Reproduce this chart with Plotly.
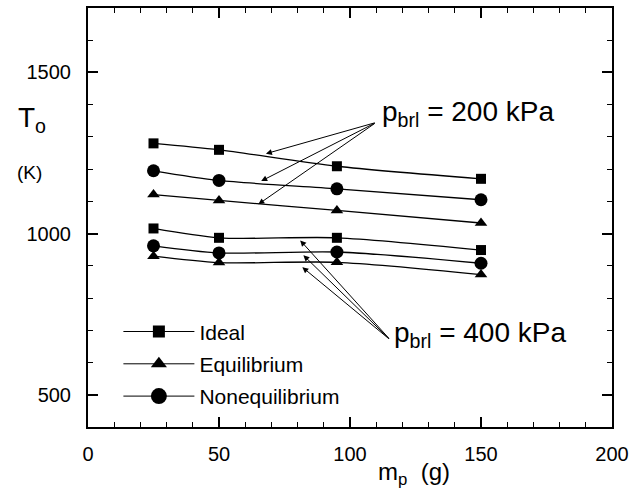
import plotly.graph_objects as go

# Propellant mass (g)
m_p = [25, 50, 95, 150]

# Stagnation temperature T_o (K) for a breech pressure of 200 kPa
ideal_200 = [1280, 1260, 1209, 1170]
equil_200 = [1121, 1103, 1072, 1033]
noneq_200 = [1195, 1165, 1139, 1105]

# Stagnation temperature T_o (K) for a breech pressure of 400 kPa
ideal_400 = [1016, 987, 987, 949]
equil_400 = [930, 910, 911, 873]
noneq_400 = [962, 940, 943, 908]

FONT = "Liberation Sans, Arial, Helvetica, sans-serif"

# name, marker symbol, marker size on curves, marker size in legend, data
models = [
    ("Ideal", "square", 10, 12, ideal_200, ideal_400),
    ("Equilibrium", "triangle-up", 11, 14, equil_200, equil_400),
    ("Nonequilibrium", "circle", 13, 16, noneq_200, noneq_400),
]

fig = go.Figure()
for name, symbol, size, leg_size, t200, t400 in models:
    for t in (t200, t400):
        fig.add_trace(go.Scatter(
            x=m_p, y=t, name=name, legendgroup=name, showlegend=False,
            mode="lines+markers",
            line=dict(color="black", width=1.3, shape="spline", smoothing=0.8),
            marker=dict(symbol=symbol, size=size, color="black"),
        ))
    # legend key with a larger symbol and a thin line
    fig.add_trace(go.Scatter(
        x=[None], y=[None], name=name, legendgroup=name, showlegend=True,
        mode="lines+markers",
        line=dict(color="black", width=1),
        marker=dict(symbol=symbol, size=leg_size, color="black"),
    ))

# Pressure labels with arrows pointing at their curve families
fig.add_annotation(x=111.6, y=1372, xref="x", yref="y", xanchor="left", yanchor="middle",
                   text="p<sub>brl</sub> = 200 kPa", showarrow=False,
                   font=dict(family=FONT, size=28, color="black"))
fig.add_annotation(x=116, y=688, xref="x", yref="y", xanchor="left", yanchor="middle",
                   text="p<sub>brl</sub> = 400 kPa", showarrow=False,
                   font=dict(family=FONT, size=28, color="black"))

arrows_200 = [(67.9, 1248), (66.1, 1163), (65.0, 1091)]
arrows_400 = [(81.0, 979), (82.2, 933), (81.8, 896)]
for (tx, ty) in arrows_200:
    fig.add_annotation(x=tx, y=ty, ax=110, ay=1345, xref="x", yref="y",
                       axref="x", ayref="y", text="", showarrow=True,
                       arrowhead=2, arrowsize=1.2, arrowwidth=1, arrowcolor="black")
for (tx, ty) in arrows_400:
    fig.add_annotation(x=tx, y=ty, ax=115.4, ay=670, xref="x", yref="y",
                       axref="x", ayref="y", text="", showarrow=True,
                       arrowhead=2, arrowsize=1.2, arrowwidth=1, arrowcolor="black")

# Axis titles
fig.add_annotation(x=-0.137, y=0.735, xref="paper", yref="paper", xanchor="left",
                   yanchor="middle", text="T<sub>o</sub>", showarrow=False,
                   font=dict(family=FONT, size=28, color="black"))
fig.add_annotation(x=-0.14, y=0.608, xref="paper", yref="paper", xanchor="left",
                   yanchor="middle", text="(K)", showarrow=False,
                   font=dict(family=FONT, size=19, color="black"))
fig.add_annotation(x=0.623, y=-0.11, xref="paper", yref="paper", xanchor="center",
                   yanchor="middle", text="m<sub>p</sub>  (g)", showarrow=False,
                   font=dict(family=FONT, size=24, color="black"))

axis_common = dict(
    showgrid=False, zeroline=False, showline=True, linecolor="black", linewidth=2,
    mirror="allticks", ticks="inside", ticklen=10, tickwidth=1.5, tickcolor="black",
    tickfont=dict(family=FONT, size=20, color="black"),
)

fig.update_xaxes(range=[0, 200], tick0=0, dtick=50,
                 minor=dict(dtick=10, ticks="inside", ticklen=5, tickwidth=1.2, tickcolor="black"),
                 ticklabelstandoff=8, **axis_common)
fig.update_yaxes(range=[400, 1700], tickvals=[500, 1000, 1500],
                 minor=dict(dtick=100, ticks="inside", ticklen=5, tickwidth=1.2, tickcolor="black"),
                 ticklabelstandoff=11, **axis_common)

fig.update_layout(
    width=643, height=495,
    margin=dict(l=88, r=31, t=6, b=68),
    paper_bgcolor="white", plot_bgcolor="white",
    showlegend=True,
    legend=dict(x=0.058, y=0.276, xanchor="left", yanchor="top",
                bgcolor="rgba(0,0,0,0)", itemwidth=71, traceorder="grouped",
                tracegroupgap=2, font=dict(family=FONT, size=21, color="black")),
    font=dict(family=FONT, color="black"),
)

fig.write_html("out.html")
